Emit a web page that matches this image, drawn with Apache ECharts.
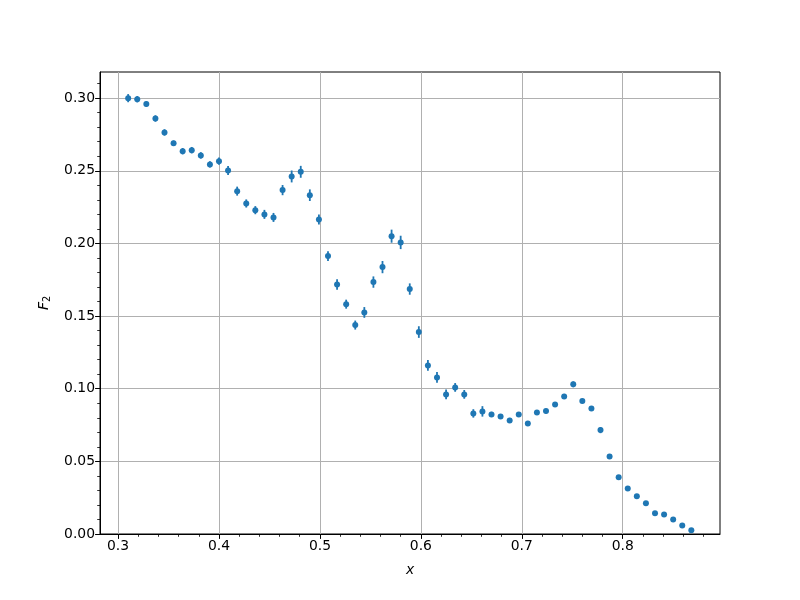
<!DOCTYPE html>
<html>
<head>
<meta charset="utf-8">
<script src="https://cdn.jsdelivr.net/npm/echarts@6/dist/echarts.min.js"></script>
<style>
html,body{margin:0;padding:0;background:#fff;}
#chart{width:800px;height:600px;}
</style>
</head>
<body>
<div id="chart"></div>
<script>
const xValues = [0.310,0.319,0.328,0.337,0.346,0.355,0.364,0.373,0.382,0.391,
  0.400,0.409,0.418,0.427,0.436,0.445,0.454,0.463,0.472,0.481,
  0.490,0.499,0.508,0.517,0.526,0.535,0.544,0.553,0.562,0.571,
  0.580,0.589,0.598,0.607,0.616,0.625,0.634,0.643,0.652,0.661,
  0.670,0.679,0.688,0.697,0.706,0.715,0.724,0.733,0.742,0.751,
  0.760,0.769,0.778,0.787,0.796,0.805,0.814,0.823,0.832,0.841,
  0.850,0.859,0.868];
const f2Values = [0.3000,0.2993,0.2959,0.2860,0.2764,0.2690,0.2635,0.2642,0.2606,0.2544,
  0.2566,0.2502,0.2360,0.2275,0.2229,0.2200,0.2179,0.2367,0.2461,0.2493,
  0.2332,0.2165,0.1913,0.1718,0.1582,0.1438,0.1525,0.1734,0.1837,0.2050,
  0.2007,0.1686,0.1390,0.1160,0.1078,0.0961,0.1009,0.0961,0.0830,0.0844,
  0.0823,0.0809,0.0782,0.0823,0.0761,0.0837,0.0846,0.0892,0.0947,0.1030,
  0.0915,0.0864,0.0715,0.0534,0.0390,0.0314,0.0259,0.0211,0.0142,0.0135,
  0.0100,0.0059,0.0025];
const f2Errors = [0.0028,0.0022,0.0018,0.0022,0.0022,0.0018,0.0022,0.0022,0.0022,0.0022,
  0.0025,0.0031,0.0031,0.0028,0.0028,0.0031,0.0031,0.0035,0.0041,0.0041,
  0.0040,0.0034,0.0034,0.0036,0.0031,0.0031,0.0037,0.0039,0.0042,0.0045,
  0.0046,0.0039,0.0040,0.0037,0.0037,0.0034,0.0030,0.0030,0.0029,0.0036,
  0.0018,0.0015,0.0017,0.0015,0.0015,0.0016,0.0016,0.0016,0.0017,0.0020,
  0.0015,0.0017,0.0021,0.0012,0.0011,0.0010,0.0010,0.0009,0.0009,0.0009,
  0.0008,0.0008,0.0008];
const xTicks = [0.3,0.4,0.5,0.6,0.7,0.8];
const xMinorTicks = [0.32,0.34,0.36,0.38,0.42,0.44,0.46,0.48,0.52,0.54,0.56,0.58,
  0.62,0.64,0.66,0.68,0.72,0.74,0.76,0.78,0.82,0.84,0.86,0.88];
const yTicks = [0.00,0.05,0.10,0.15,0.20,0.25,0.30];
const yMinorTicks = [0.01,0.02,0.03,0.04,0.06,0.07,0.08,0.09,0.11,0.12,0.13,0.14,
  0.16,0.17,0.18,0.19,0.21,0.22,0.23,0.24,0.26,0.27,0.28,0.29,0.31];

const X_MIN = 0.2821, X_MAX = 0.8964, Y_MIN = 0, Y_MAX = 0.318;
const COLOR = '#1f77b4';
const FONT = 'DejaVu Sans';

const points = xValues.map((x, i) => [x, f2Values[i]]);
const errData = xValues.map((x, i) => [x, f2Values[i], f2Errors[i]]);

const chart = echarts.init(document.getElementById('chart'), null, {renderer: 'canvas'});
const baseLabel = {color: '#000', fontFamily: FONT, fontSize: 13.9};

chart.setOption({
  animation: false,
  backgroundColor: '#fff',
  grid: {left: 100, right: 80, top: 72, bottom: 66, show: true, borderColor: '#000', borderWidth: 1, backgroundColor: 'transparent', outerBoundsMode: 'none', containLabel: false},
  xAxis: [{
    type: 'value', min: X_MIN, max: X_MAX, position: 'bottom',
    name: 'x', nameLocation: 'middle', nameGap: 29,
    nameTextStyle: {fontFamily: FONT, fontSize: 13.9, fontStyle: 'italic', color: '#000'},
    axisLine: {show: true, lineStyle: {color: '#000', width: 1}},
    axisTick: {show: true, inside: false, length: 4.9, customValues: xTicks, lineStyle: {color: '#000', width: 1}},
    axisLabel: Object.assign({show: true, margin: 5, customValues: xTicks, formatter: v => v.toFixed(1)}, baseLabel),
    splitLine: {show: true, lineStyle: {color: '#b0b0b0', width: 1}},
    minorTick: {show: false}
  }, {
    type: 'value', min: X_MIN, max: X_MAX, position: 'bottom',
    axisLine: {show: false},
    axisTick: {show: true, inside: false, length: 2.8, customValues: xMinorTicks, lineStyle: {color: '#000', width: 0.8}},
    axisLabel: {show: false},
    splitLine: {show: false}
  }],
  yAxis: [{
    type: 'value', min: Y_MIN, max: Y_MAX, position: 'left',
    name: '{f|F}{s|2}', nameLocation: 'middle', nameGap: 48, nameRotate: 90,
    nameTextStyle: {color: '#000', rich: {
      f: {fontFamily: FONT, fontSize: 13.9, fontStyle: 'italic', color: '#000'},
      s: {fontFamily: FONT, fontSize: 9.7, color: '#000', verticalAlign: 'bottom', padding: [6, 0, 0, 0]}
    }},
    axisLine: {show: true, lineStyle: {color: '#000', width: 1}},
    axisTick: {show: true, inside: false, length: 4.9, customValues: yTicks, lineStyle: {color: '#000', width: 1}},
    axisLabel: Object.assign({show: true, margin: 5, customValues: yTicks, formatter: v => v.toFixed(2)}, baseLabel),
    splitLine: {show: true, lineStyle: {color: '#b0b0b0', width: 1}},
    minorTick: {show: false}
  }, {
    type: 'value', min: Y_MIN, max: Y_MAX, position: 'left',
    axisLine: {show: false},
    axisTick: {show: true, inside: false, length: 2.8, customValues: yMinorTicks, lineStyle: {color: '#000', width: 0.8}},
    axisLabel: {show: false},
    splitLine: {show: false}
  }],
  series: [{
    type: 'custom',
    coordinateSystem: 'cartesian2d',
    xAxisIndex: 0, yAxisIndex: 0,
    data: errData,
    z: 2,
    renderItem: function (params, api) {
      const x = api.value(0), y = api.value(1), e = api.value(2);
      const p1 = api.coord([x, y - e]);
      const p2 = api.coord([x, y + e]);
      return {
        type: 'line',
        shape: {x1: p1[0], y1: p1[1], x2: p2[0], y2: p2[1]},
        style: {stroke: COLOR, lineWidth: 1.8}
      };
    }
  }, {
    type: 'scatter',
    xAxisIndex: 0, yAxisIndex: 0,
    data: points,
    symbol: 'circle',
    symbolSize: 6,
    itemStyle: {color: COLOR, opacity: 1},
    z: 3
  }]
});
</script>
</body>
</html>
